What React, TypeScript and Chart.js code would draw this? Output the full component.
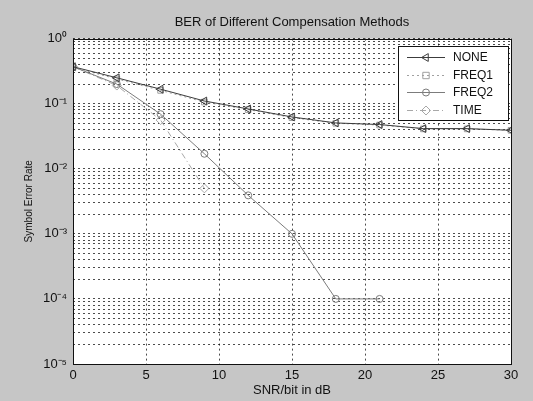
import React, { useEffect, useRef } from 'react';
import { Chart, registerables } from 'chart.js';

Chart.register(...registerables);

// ---- data ----
const snrDb = [0, 3, 6, 9, 12, 15, 18, 21, 24, 27, 30];
const noneSer = [0.37, 0.25, 0.167, 0.11, 0.083, 0.0625, 0.0506, 0.0478, 0.0414, 0.0414, 0.039];
const freq1Ser = [0.36, 0.24, 0.16, 0.106, 0.081, 0.061, 0.05, 0.047, 0.041, 0.041, 0.039];
const freq2Ser = [0.37, 0.2, 0.069, 0.017, 0.0039, 0.001, 0.0001, 0.0001];
const timeSer = [0.37, 0.19, 0.056, 0.005];
const seriesLabels = ['NONE', 'FREQ1', 'FREQ2', 'TIME'];
const yDecades = [-5, -4, -3, -2, -1, 0];
const yMantissas = [1, 2, 3, 4, 5, 6, 7, 8, 9];
const xTickStep = 5;

const FONT = "'Liberation Sans', Arial, Helvetica, sans-serif";

const sup: Record<string, string> = {
  '0': '\u2070', '1': '\u00B9', '2': '\u00B2', '3': '\u00B3', '4': '\u2074',
  '5': '\u2075', '6': '\u2076', '7': '\u2077', '8': '\u2078', '9': '\u2079', '-': '\u207B',
};
const powLabel = (e: number) => '10' + String(e).split('').map((c) => sup[c]).join('');

const yTickValues: number[] = [];
yDecades.forEach((e) => {
  if (e === 0) { yTickValues.push(1); return; }
  yMantissas.forEach((m) => yTickValues.push(m * Math.pow(10, e)));
});

const toPts = (vals: number[]) => vals.map((y, i) => ({ x: snrDb[i], y }));

function drawMarker(ctx: CanvasRenderingContext2D, style: string, rot: number, x: number, y: number, r: number) {
  ctx.beginPath();
  if (style === 'circle') {
    ctx.arc(x, y, r, 0, Math.PI * 2);
  } else if (style === 'rect') {
    ctx.rect(x - r * 0.8, y - r * 0.8, r * 1.6, r * 1.6);
  } else if (style === 'rectRot') {
    ctx.moveTo(x, y - r); ctx.lineTo(x + r, y); ctx.lineTo(x, y + r); ctx.lineTo(x - r, y); ctx.closePath();
  } else if (style === 'triangle') {
    const rad = (rot * Math.PI) / 180;
    for (let k = 0; k < 3; k++) {
      const a = rad + (k * 2 * Math.PI) / 3;
      const px = x + Math.sin(a) * r;
      const py = y - Math.cos(a) * r;
      if (k === 0) ctx.moveTo(px, py); else ctx.lineTo(px, py);
    }
    ctx.closePath();
  }
  ctx.stroke();
}

const matlabPlugin = {
  id: 'matlabLook',
  beforeDraw(chart: any) {
    const { ctx, chartArea: a, width, height } = chart;
    ctx.save();
    ctx.fillStyle = '#c6c6c6';
    ctx.fillRect(0, 0, width, height);
    ctx.fillStyle = '#ffffff';
    ctx.fillRect(a.left, a.top, a.right - a.left, a.bottom - a.top);
    ctx.restore();
  },
  afterDraw(chart: any) {
    const { ctx, chartArea: a } = chart;
    ctx.save();
    ctx.strokeStyle = '#111';
    ctx.lineWidth = 1;
    ctx.setLineDash([]);
    ctx.strokeRect(Math.round(a.left) + 0.5, Math.round(a.top) + 0.5, Math.round(a.right - a.left), Math.round(a.bottom - a.top));

    // legend box
    const bw = 110, bh = 74;
    const bx = Math.round(a.right) - 3 - bw;
    const by = Math.round(a.top) + 7;
    ctx.fillStyle = '#ffffff';
    ctx.fillRect(bx, by, bw, bh);
    ctx.strokeStyle = '#111';
    ctx.strokeRect(bx + 0.5, by + 0.5, bw, bh);
    const rows = [11, 29, 46, 64];
    ctx.font = `12px ${FONT}`;
    ctx.textBaseline = 'middle';
    ctx.textAlign = 'left';
    chart.data.datasets.forEach((ds: any, i: number) => {
      const yy = by + rows[i] + 0.5;
      ctx.strokeStyle = ds.borderColor;
      ctx.lineWidth = 1;
      ctx.setLineDash(ds.borderDash || []);
      ctx.beginPath();
      ctx.moveTo(bx + 9, yy);
      ctx.lineTo(bx + 47, yy);
      ctx.stroke();
      ctx.setLineDash([]);
      drawMarker(ctx, ds.pointStyle, ds.pointRotation || 0, bx + 28, yy, ds.pointRadius);
      ctx.fillStyle = '#111';
      ctx.fillText(ds.label, bx + 55, yy);
    });
    ctx.restore();
  },
};

export default function App() {
  const ref = useRef<HTMLCanvasElement>(null);

  useEffect(() => {
    document.body.style.margin = '0';
    document.body.style.background = '#c6c6c6';
    const canvas = ref.current;
    if (!canvas) return;
    const common = { borderWidth: 1, pointBackgroundColor: 'rgba(0,0,0,0)', pointBorderWidth: 1, fill: false, tension: 0 };
    const chart = new Chart(canvas, {
      type: 'line',
      data: {
        datasets: [
          { ...common, label: seriesLabels[0], data: toPts(noneSer), borderColor: '#3c3c3c', pointBorderColor: '#3c3c3c', pointStyle: 'triangle', pointRotation: -90, pointRadius: 4.5, borderDash: [] },
          { ...common, label: seriesLabels[1], data: toPts(freq1Ser), borderColor: '#a0a0a0', pointBorderColor: '#a0a0a0', pointStyle: 'rect', pointRadius: 4, borderDash: [2, 3] },
          { ...common, label: seriesLabels[2], data: toPts(freq2Ser), borderColor: '#7c7c7c', pointBorderColor: '#7c7c7c', pointStyle: 'circle', pointRadius: 3.5, borderDash: [] },
          { ...common, label: seriesLabels[3], data: toPts(timeSer), borderColor: '#a8a8a8', pointBorderColor: '#a8a8a8', pointStyle: 'rectRot', pointRadius: 4.5, borderDash: [6, 3, 1, 3] },
        ] as any,
      },
      options: {
        responsive: false,
        animation: false,
        layout: { padding: { left: 0, right: 22, top: 0, bottom: 0 } },
        plugins: {
          legend: { display: false },
          tooltip: { enabled: false },
          title: {
            display: true,
            text: 'BER of Different Compensation Methods',
            fullSize: false,
            color: '#111',
            font: { family: FONT, size: 13, weight: 'normal' },
            padding: { top: 15, bottom: 8 },
          },
        },
        scales: {
          x: {
            type: 'linear',
            min: 0,
            max: 30,
            ticks: { stepSize: xTickStep, color: '#111', font: { family: FONT, size: 13 }, padding: 4, maxRotation: 0 },
            grid: { color: 'rgba(0,0,0,0.7)', lineWidth: 1, drawTicks: false },
            border: { display: false },
            title: { display: true, text: 'SNR/bit in dB', color: '#111', font: { family: FONT, size: 13 }, padding: { top: 0, bottom: 3 } },
            afterFit: (s: any) => { s.height = 37; },
          },
          y: {
            type: 'logarithmic',
            min: 1e-5,
            max: 1,
            afterBuildTicks: (s: any) => { s.ticks = yTickValues.map((v) => ({ value: v })); },
            ticks: {
              autoSkip: false,
              color: '#111',
              font: { family: FONT, size: 13 },
              padding: 6,
              callback: (v: any) => {
                const e = Math.log10(Number(v));
                return Math.abs(e - Math.round(e)) < 1e-6 ? powLabel(Math.round(e)) : '';
              },
            },
            grid: { color: 'rgba(0,0,0,0.7)', lineWidth: 1, drawTicks: false },
            border: { display: false },
            title: { display: true, text: 'Symbol Error Rate', color: '#111', font: { family: FONT, size: 10 }, padding: { top: 23, bottom: 0 } },
            afterFit: (s: any) => { s.width = 73; },
          },
        },
      },
      plugins: [matlabPlugin],
    });
    // dotted grid lines
    (chart.options.scales as any).x.grid.borderDash = [2, 3];
    (chart.options.scales as any).y.grid.borderDash = [2, 3];
    (chart.options.scales as any).x.border.dash = [2, 3];
    (chart.options.scales as any).y.border.dash = [2, 3];
    chart.update();
    return () => chart.destroy();
  }, []);

  return (
    <div style={{ width: 533, height: 401, background: '#c6c6c6' }}>
      <canvas ref={ref} width={533} height={401} />
    </div>
  );
}
